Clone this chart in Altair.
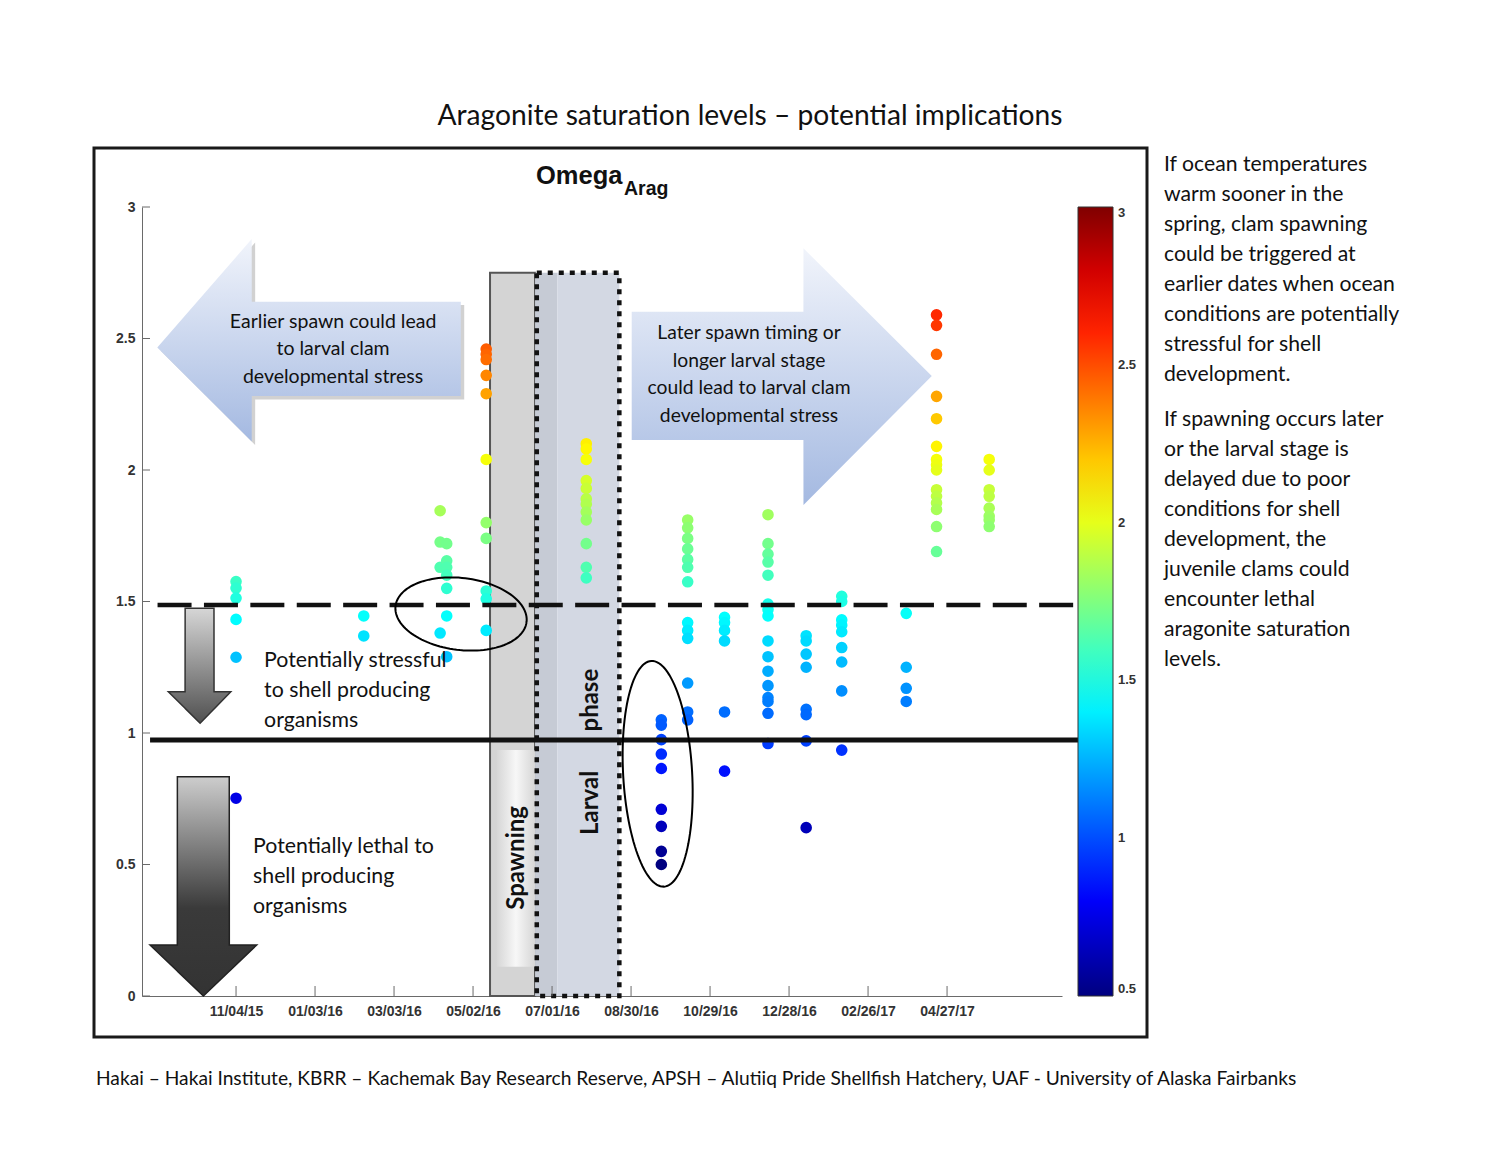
import altair as alt
import numpy as np
import pandas as pd

# ---------------- data ----------------
sample_dates = ["2015-11-04", "2016-02-09", "2016-04-07", "2016-04-12", "2016-05-12",
                "2016-07-27", "2016-09-22", "2016-10-12", "2016-11-09", "2016-12-12",
                "2017-01-10", "2017-02-06", "2017-03-27", "2017-04-19", "2017-05-29"]
omega_values = [
    [1.576, 1.551, 1.513, 1.432, 1.288, 0.752],
    [1.445, 1.369],
    [1.845, 1.726, 1.63, 1.38],
    [1.72, 1.655, 1.63, 1.60, 1.55, 1.445, 1.29],
    [2.46, 2.44, 2.42, 2.36, 2.29, 2.04, 1.80, 1.74, 1.54, 1.51, 1.39],
    [2.10, 2.08, 2.04, 1.96, 1.93, 1.89, 1.87, 1.84, 1.81, 1.72, 1.63, 1.59],
    [1.05, 1.03, 0.975, 0.92, 0.865, 0.71, 0.645, 0.55, 0.50],
    [1.81, 1.78, 1.74, 1.70, 1.66, 1.63, 1.575, 1.42, 1.39, 1.36, 1.19, 1.08, 1.05],
    [1.44, 1.42, 1.39, 1.35, 1.08, 0.855],
    [1.83, 1.72, 1.68, 1.65, 1.60, 1.49, 1.47, 1.445, 1.35, 1.29, 1.235, 1.18, 1.135, 1.12, 1.075, 0.96],
    [1.37, 1.35, 1.30, 1.25, 1.09, 1.07, 0.97, 0.64],
    [1.52, 1.50, 1.43, 1.41, 1.385, 1.325, 1.27, 1.16, 0.935],
    [1.455, 1.25, 1.17, 1.12],
    [2.59, 2.55, 2.44, 2.28, 2.195, 2.09, 2.04, 2.02, 2.0, 1.925, 1.90, 1.875, 1.85, 1.785, 1.69],
    [2.04, 2.0, 1.925, 1.90, 1.855, 1.825, 1.81, 1.785],
]
x_tick_dates = ["2015-11-04", "2016-01-03", "2016-03-03", "2016-05-02", "2016-07-01",
                "2016-08-30", "2016-10-29", "2016-12-28", "2017-02-26", "2017-04-27"]
y_tick_values = [0, 0.5, 1, 1.5, 2, 2.5, 3]
colorbar_values = [0.5, 1, 1.5, 2, 2.5, 3]
stress_level = 1.487      # dashed threshold
lethal_level = 0.973      # solid threshold

title_text = "Aragonite saturation levels \u2013 potential implications"
para1 = ("If ocean temperatures\nwarm sooner in the\nspring, clam spawning\ncould be triggered at\n"
         "earlier dates when ocean\nconditions are potentially\nstressful for shell\ndevelopment.")
para2 = ("If spawning occurs later\nor the larval stage is\ndelayed due to poor\nconditions for shell\n"
         "development, the\njuvenile clams could\nencounter lethal\naragonite saturation\nlevels.")
footnote = ("Hakai \u2013 Hakai Institute, KBRR \u2013 Kachemak Bay Research Reserve,  APSH \u2013 "
            "Alutiiq Pride Shellfish Hatchery, UAF -  University of Alaska Fairbanks")

# ---------------- helpers ----------------
BASE = pd.Timestamp("2015-11-04")


def day(n):
    return (BASE + pd.Timedelta(days=float(n))).strftime("%Y-%m-%dT%H:%M:%S")


def dt(s):
    ts = pd.Timestamp(s)
    return alt.DateTime(year=ts.year, month=ts.month, date=ts.day, hours=ts.hour)


W, H = 920, 789
PX_DAY = 79.0 / 60.0
PX_VAL = 263.0

x_scale = alt.Scale(domain=[dt(day(-71.4)), dt(day(627.3))])
y_scale = alt.Scale(domain=[0, 3])

jet_domain = [0.5, 0.8125, 1.4375, 2.0625, 2.6875, 3.0]
jet_range = ["#000080", "#0000ff", "#00ffff", "#ffff00", "#ff0000", "#800000"]

TXT = "Lato"
NUM = "Liberation Sans"

x_axis = alt.Axis(values=[dt(d) for d in x_tick_dates], format="%m/%d/%y", ticks=False,
                  grid=False, labelFont=NUM, labelFontWeight="bold", labelFontSize=14,
                  labelColor="#333333", labelPadding=8, domainColor="#6a6a6a",
                  labelOverlap=False)
y_axis = alt.Axis(values=y_tick_values, format="~g", ticks=False, grid=False,
                  labelFont=NUM, labelFontWeight="bold", labelFontSize=14,
                  labelColor="#333333", labelPadding=7, domainColor="#6a6a6a")


def X(f="t"):
    return alt.X(f"{f}:T", scale=x_scale, axis=x_axis, title=None)


def Y(f="v"):
    return alt.Y(f"{f}:Q", scale=y_scale, axis=y_axis, title=None)


one = pd.DataFrame({"k": [0]})
layers = []


# ---------------- shaded seasonal regions ----------------
def region(x0, x1, fill, stroke=None, sw=0):
    df = pd.DataFrame({"t": [day(x0)], "t2": [day(x1)], "v": [0.0], "v2": [2.750]})
    kw = dict(fill=fill)
    if stroke:
        kw.update(stroke=stroke, strokeWidth=sw)
    return alt.Chart(df).mark_rect(**kw).encode(x=X("t"), x2="t2:T", y=Y("v"), y2="v2:Q")


layers.append(region(192.9, 227.1, "#d4d4d4", "#555555", 2))
layers.append(region(227.1, 244.0, "#c6cbd5"))
layers.append(region(244.0, 291.1, "#d3d8e3"))

spawn_box = pd.DataFrame({"t": [day(198.0)], "t2": [day(227.1)], "v": [0.111], "v2": [0.935]})
layers.append(alt.Chart(spawn_box).mark_rect(
    fill={"gradient": "linear", "x1": 0, "y1": 0, "x2": 1, "y2": 0,
          "stops": [{"offset": 0, "color": "#d6d6d6"}, {"offset": 0.5, "color": "#f7f7f7"},
                    {"offset": 1, "color": "#d6d6d6"}]}
).encode(x=X("t"), x2="t2:T", y=Y("v"), y2="v2:Q"))

dotted = pd.DataFrame({"t": [day(228.4)], "t2": [day(291.1)], "v": [0.0], "v2": [2.750]})
layers.append(alt.Chart(dotted).mark_rect(
    fill="white", fillOpacity=0, stroke="#111111", strokeWidth=4.5, strokeDash=[5, 6]
).encode(x=X("t"), x2="t2:T", y=Y("v"), y2="v2:Q"))

# ---------------- arrows ----------------
blue_grad = {"gradient": "linear", "x1": 0, "y1": 0, "x2": 0, "y2": 1,
             "stops": [{"offset": 0, "color": "#f1f4fb"}, {"offset": 1, "color": "#a4b9e1"}]}


def left_arrow_df(sx=0.0, sv=0.0):
    return pd.DataFrame({"t": [day(-59.8 + sx), day(11.9 + sx), day(11.95 + sx), day(170.7 + sx)],
                         "v": [2.466 + sv, 2.878 + sv, 2.640 + sv, 2.640 + sv],
                         "v2": [2.466 + sv, 2.108 + sv, 2.281 + sv, 2.281 + sv]})


# soft drop shadow of the left arrow
layers.append(alt.Chart(left_arrow_df(2.6, -0.013)).mark_area(
    orient="vertical", fill="#9a9a9a", fillOpacity=0.45).encode(x=X("t"), y=Y("v"), y2="v2:Q"))
layers.append(alt.Chart(left_arrow_df()).mark_area(orient="vertical", fill=blue_grad).encode(
    x=X("t"), y=Y("v"), y2="v2:Q"))

right_arrow = pd.DataFrame({"t": [day(300.5), day(430.9), day(430.95), day(528.4)],
                            "v": [2.602, 2.602, 2.843, 2.357],
                            "v2": [2.114, 2.114, 1.867, 2.357]})
layers.append(alt.Chart(right_arrow).mark_area(orient="vertical", fill=blue_grad).encode(
    x=X("t"), y=Y("v"), y2="v2:Q"))


def down_arrow(tip, tip_v, head_l, head_r, head_v, body_l, body_r, top_v, eps=0.05):
    def edge_l(x):
        return head_v + (tip_v - head_v) * (x - head_l) / (tip - head_l)

    def edge_r(x):
        return tip_v + (head_v - tip_v) * (x - tip) / (head_r - tip)

    xs = [head_l, body_l, body_l + eps, tip, body_r - eps, body_r, head_r]
    tops = [head_v, head_v, top_v, top_v, top_v, head_v, head_v]
    bots = [head_v, edge_l(body_l), edge_l(body_l + eps), tip_v,
            edge_r(body_r - eps), edge_r(body_r), head_v]
    return pd.DataFrame({"t": [day(x) for x in xs], "v": tops, "v2": bots})


small_down = down_arrow(-27.3, 1.037, -51.4, -4.0, 1.157, -38.7, -16.7, 1.474)
layers.append(alt.Chart(small_down).mark_area(
    orient="vertical", stroke="#333333", strokeWidth=1.5,
    fill={"gradient": "linear", "x1": 0, "y1": 0, "x2": 0, "y2": 1,
          "stops": [{"offset": 0, "color": "#d6d6d6"}, {"offset": 1, "color": "#505050"}]}
).encode(x=X("t"), y=Y("v"), y2="v2:Q"))

big_down = down_arrow(-24.8, 0.0, -65.3, 15.7, 0.194, -44.6, -5.1, 0.834)
layers.append(alt.Chart(big_down).mark_area(
    orient="vertical", stroke="#222222", strokeWidth=1.5,
    fill={"gradient": "linear", "x1": 0, "y1": 0, "x2": 0, "y2": 1,
          "stops": [{"offset": 0, "color": "#cdcdcd"}, {"offset": 0.6, "color": "#3a3a3a"},
                    {"offset": 1, "color": "#333333"}]}
).encode(x=X("t"), y=Y("v"), y2="v2:Q"))

# ---------------- sample points ----------------
pts = pd.DataFrame([(sample_dates[i] + "T00:00:00", v)
                    for i, col in enumerate(omega_values) for v in col],
                   columns=["date", "omega"])
layers.append(alt.Chart(pts).mark_circle(size=135, opacity=1).encode(
    x=X("date"),
    y=Y("omega"),
    color=alt.Color("omega:Q", title=None,
                    scale=alt.Scale(domain=jet_domain, range=jet_range, interpolate="rgb"),
                    legend=alt.Legend(orient="none", legendX=936, legendY=0, direction="vertical",
                                      gradientLength=789, gradientThickness=35,
                                      values=colorbar_values, format="~g", labelFont=NUM,
                                      labelFontWeight="bold", labelFontSize=13,
                                      labelColor="#333333", labelOffset=5, labelBaseline="middle",
                                      gradientStrokeColor="#333333", gradientStrokeWidth=1,
                                      padding=0, labelOverlap=False)),
))

# ---------------- threshold lines ----------------
dash_df = pd.DataFrame({"t": [day(-65.3)], "t2": [day(639.5)], "v": [stress_level]})
layers.append(alt.Chart(dash_df).mark_rule(color="#111111", strokeWidth=4.5,
                                           strokeDash=[34, 12.4], strokeDashOffset=38.9).encode(
    x=X("t"), x2="t2:T", y=Y("v")))
solid_df = pd.DataFrame({"t": [day(-65.3)], "t2": [day(643.3)], "v": [lethal_level]})
layers.append(alt.Chart(solid_df).mark_rule(color="#111111", strokeWidth=5).encode(
    x=X("t"), x2="t2:T", y=Y("v")))


# ---------------- ellipses ----------------
def ellipse(cx_px, cy_px, a, b, tilt_deg):
    th = np.radians(tilt_deg)
    s = np.linspace(0, 2 * np.pi, 121)
    dx = a * np.cos(s) * np.cos(th) - b * np.sin(s) * np.sin(th)
    dy = a * np.cos(s) * np.sin(th) + b * np.sin(s) * np.cos(th)
    cx_day = (cx_px - 236) / PX_DAY
    cy_val = (996 - cy_px) / PX_VAL
    return pd.DataFrame({"t": [day(cx_day + d / PX_DAY) for d in dx],
                         "v": cy_val - dy / PX_VAL, "i": np.arange(len(s))})


for e in [ellipse(461, 614, 66, 36, 7), ellipse(657.6, 773.8, 34.5, 113, -3.2)]:
    layers.append(alt.Chart(e).mark_line(color="black", strokeWidth=2).encode(
        x=X("t"), y=Y("v"), order="i:Q"))

# ---------------- axis ticks (inward) ----------------
layers.append(alt.Chart(pd.DataFrame({"v": y_tick_values})).mark_rule(
    color="#6a6a6a", strokeWidth=1).encode(y=Y("v"), x=alt.value(0), x2=alt.value(8)))
layers.append(alt.Chart(pd.DataFrame({"t": [d + "T00:00:00" for d in x_tick_dates]})).mark_rule(
    color="#6a6a6a", strokeWidth=1).encode(x=X("t"), y=alt.value(H), y2=alt.value(H - 10)))


# ---------------- annotation text in plot ----------------
def ptext(x_day, v, txt, size, align="left", lh=30, angle=0, weight="normal"):
    df = pd.DataFrame({"t": [day(x_day)], "v": [v]})
    kw = dict(font=TXT, fontSize=size, align=align, lineBreak="\n", lineHeight=lh,
              color="#111111", fontWeight=weight)
    if angle:
        kw.update(angle=angle, baseline="middle")
    else:
        kw.update(baseline="alphabetic")
    return alt.Chart(df).mark_text(**kw).encode(x=X("t"), y=Y("v"), text=alt.value(txt))


layers.append(ptext(73.7, 2.540, "Earlier spawn could lead\nto larval clam\ndevelopmental stress",
                    19.5, "center", 27.5))
layers.append(ptext(389.6, 2.498,
                    "Later spawn timing or\nlonger larval stage\ncould lead to larval clam\ndevelopmental stress",
                    19.3, "center", 27.7))
layers.append(ptext(21.3, 1.251, "Potentially stressful\nto shell producing\norganisms", 21.3))
layers.append(ptext(12.9, 0.544, "Potentially lethal to\nshell producing\norganisms", 21.3))
layers.append(ptext(213.4, 0.525, "Spawning", 24, "center", angle=270, weight="bold"))
layers.append(ptext(269.6, 0.734, "Larval", 24, "center", angle=270, weight="bold"))
layers.append(ptext(269.6, 1.125, "phase", 24, "center", angle=270, weight="bold"))


# ---------------- page text and frame ----------------
def page_text(x, y, txt, size, font=TXT, align="left", weight="normal", lh=30):
    return alt.Chart(one).mark_text(font=font, fontSize=size, align=align, baseline="alphabetic",
                                    lineBreak="\n", lineHeight=lh, color="#111111",
                                    fontWeight=weight).encode(
        x=alt.value(x), y=alt.value(y), text=alt.value(txt))


layers.append(alt.Chart(one).mark_rect(fill="white", fillOpacity=0, stroke="#1a1a1a",
                                       strokeWidth=3).encode(
    x=alt.value(-48), x2=alt.value(1005), y=alt.value(-59), y2=alt.value(830)))
layers.append(page_text(608, -82, title_text, 28.2, align="center"))
layers.append(page_text(394, -23, "Omega", 25.5, font=NUM, weight="bold"))
layers.append(page_text(482, -12, "Arag", 19.5, font=NUM, weight="bold"))
layers.append(page_text(1022, -36, para1, 21.2))
layers.append(page_text(1022, 219, para2, 21.2))
layers.append(page_text(-46, 878, footnote, 19.2))

chart = alt.layer(*layers).properties(
    width=W, height=H,
    padding={"left": 142, "top": 207, "right": 438, "bottom": 163},
    autosize=alt.AutoSizeParams(type="none"),
    background="white",
).configure_view(strokeWidth=0)

chart.save("out.html", embed_options={"renderer": "svg", "actions": False})
